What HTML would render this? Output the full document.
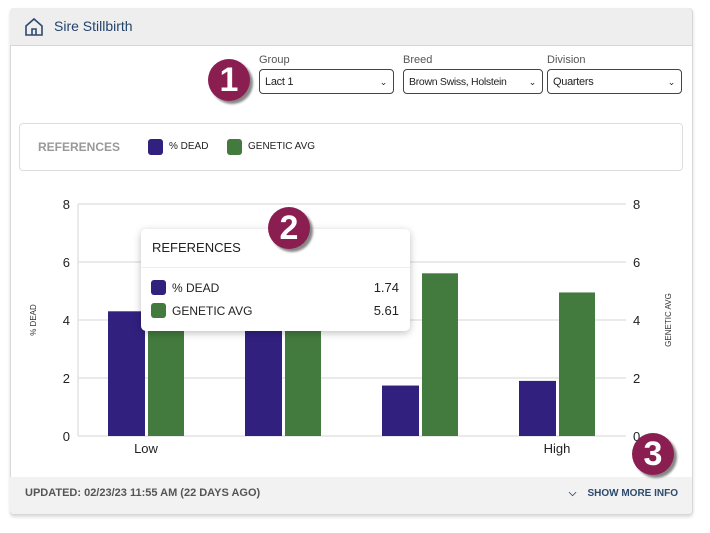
<!DOCTYPE html>
<html><head><meta charset="utf-8">
<style>
body{margin:0;width:710px;height:533px;background:#fff;font-family:"Liberation Sans Narrow","Liberation Sans",sans-serif;position:relative;overflow:hidden}
.abs{position:absolute}
.card{left:10px;top:8px;width:681px;height:505px;border:1px solid #d8d8d8;border-radius:4px;box-shadow:0 2px 3px rgba(0,0,0,.15);background:#fff}
.hdr{left:10px;top:8px;width:682px;height:37px;background:#eee;border-bottom:1px solid #d6d6d6;border-radius:4px 4px 0 0}
.lbl{font-size:11px;color:#555}
.sel{height:25px;border:1px solid #444;border-radius:4px;font-size:11px;color:#222;line-height:25px;padding-left:5px;box-sizing:border-box;background:#fff;letter-spacing:-0.3px}
.sel span{position:absolute;right:6px;top:0;font-size:9px}
.badge{width:42px;height:42px;border-radius:50%;background:#8a1e50;color:#fff;font-size:34px;font-weight:bold;text-align:center;line-height:43px;box-shadow:3px 3px 2px #888}
.foot{left:10px;top:477px;width:682px;height:37px;background:#f2f2f2;border-radius:0 0 4px 4px}
</style></head><body>
<div class="abs card"></div>
<div class="abs hdr"></div>
<svg class="abs" style="left:24px;top:17px" width="20" height="20"><path d="M2 9 L10 2 L18 9 V18 H2 Z M8 18 V12 H12 V18" fill="none" stroke="#2c4a6e" stroke-width="1.6"/></svg>
<div class="abs" style="left:54px;top:18px;font-size:14px;color:#23436b">Sire Stillbirth</div>

<div class="abs lbl" style="left:259px;top:54px">Group</div>
<div class="abs sel" style="left:259px;top:69px;width:135px">Lact 1<span>⌄</span></div>
<div class="abs lbl" style="left:403px;top:54px">Breed</div>
<div class="abs sel" style="left:403px;top:69px;width:140px;font-size:10.5px">Brown Swiss, Holstein<span>⌄</span></div>
<div class="abs lbl" style="left:547px;top:54px">Division</div>
<div class="abs sel" style="left:547px;top:69px;width:135px">Quarters<span>⌄</span></div>

<div class="abs" style="left:19px;top:123px;width:662px;height:46px;border:1px solid #ddd;border-radius:4px"></div>
<div class="abs" style="left:38px;top:140px;font-size:12px;color:#999;font-weight:bold">REFERENCES</div>
<div class="abs" style="left:148px;top:139px;width:15px;height:16px;background:#31207e;border-radius:3px"></div>
<div class="abs" style="left:169px;top:141px;font-size:10px;color:#222">% DEAD</div>
<div class="abs" style="left:227px;top:139px;width:15px;height:16px;background:#437a3e;border-radius:3px"></div>
<div class="abs" style="left:248px;top:141px;font-size:10px;color:#222">GENETIC AVG</div>

<svg id="chart" class="abs" style="left:0;top:0" width="710" height="533"></svg>

<div class="abs" style="left:141px;top:229px;width:269px;height:102px;background:#fff;border-radius:5px;box-shadow:0 2px 8px rgba(0,0,0,.25)">
 <div class="abs" style="left:11px;top:11px;font-size:13px;color:#222">REFERENCES</div>
 <div class="abs" style="left:0;top:38px;width:269px;height:1px;background:#eee"></div>
 <div class="abs" style="left:10px;top:51px;width:15px;height:15px;background:#31207e;border-radius:3px"></div>
 <div class="abs" style="left:31px;top:52px;font-size:12px;color:#222">% DEAD</div>
 <div class="abs" style="right:11px;top:51px;font-size:13px;color:#222">1.74</div>
 <div class="abs" style="left:10px;top:74px;width:15px;height:15px;background:#437a3e;border-radius:3px"></div>
 <div class="abs" style="left:31px;top:75px;font-size:12px;color:#222">GENETIC AVG</div>
 <div class="abs" style="right:11px;top:74px;font-size:13px;color:#222">5.61</div>
</div>

<div class="abs foot"></div>
<div class="abs" style="left:25px;top:487px;font-size:11px;color:#555;font-weight:bold">UPDATED: 02/23/23 11:55 AM (22 DAYS AGO)</div>
<div class="abs" style="right:32px;top:488px;font-size:10px;color:#2c4a6e;font-weight:bold">⌵&nbsp;&nbsp;&nbsp; SHOW MORE INFO</div>

<div class="abs badge" style="left:208px;top:59px">1</div>
<div class="abs badge" style="left:268px;top:207px">2</div>
<div class="abs badge" style="left:632px;top:433px">3</div>

<script>
const categories=["Low","","","High"];
const deadValues=[4.3,4.0,1.74,1.9];
const geneticValues=[4.4,4.2,5.61,4.95];
const ticks=[0,2,4,6,8];
const NS="http://www.w3.org/2000/svg";
const svg=document.getElementById('chart');
const X0=78,X1=626,Y0=436,Y8=204;
const y=v=>Y0-(v/8)*(Y0-Y8);
const band=(X1-X0)/categories.length;
const bx=i=>X0+i*band;
function mk(t,a){const e=document.createElementNS(NS,t);for(const k in a)e.setAttribute(k,a[k]);svg.appendChild(e);return e;}
ticks.forEach(t=>{
 const l=mk('line',{x1:X0,x2:X1,y1:y(t),y2:y(t),stroke:'#e3e3e3','stroke-width':1.5});
 
 
 const a=mk('text',{x:70,y:y(t)+5,'text-anchor':'end','font-size':13,fill:'#222','font-family':'Liberation Sans Narrow, Liberation Sans, sans-serif'});
 a.textContent=t;
 
 
 const b=mk('text',{x:633,y:y(t)+5,'font-size':13,fill:'#222','font-family':'Liberation Sans Narrow, Liberation Sans, sans-serif'});
 b.textContent=t;
 
 
});
const ax=mk('line',{x1:X0,x2:X0,y1:Y8,y2:Y0,stroke:'#e3e3e3','stroke-width':1.5});


categories.forEach((c,i)=>{
 const r1=mk('rect',{x:bx(i)+30,y:y(deadValues[i]),width:37,height:Y0-y(deadValues[i]),fill:'#31207e'});
 
 
 const r2=mk('rect',{x:bx(i)+70,y:y(geneticValues[i]),width:36,height:Y0-y(geneticValues[i]),fill:'#437a3e'});
 
 
 const t=mk('text',{x:bx(i)+68,y:453,'text-anchor':'middle','font-size':13,fill:'#222','font-family':'Liberation Sans Narrow, Liberation Sans, sans-serif'});
 t.textContent=c;
 
 
});
const yl=mk('text',{transform:'translate(36,320) rotate(-90)','text-anchor':'middle','font-size':8,fill:'#333','font-family':'Liberation Sans, sans-serif'});
yl.textContent='% DEAD';


const yr=mk('text',{transform:'translate(671,320) rotate(-90)','text-anchor':'middle','font-size':8,fill:'#333','font-family':'Liberation Sans, sans-serif'});
yr.textContent='GENETIC AVG';


</script>
</body></html>
